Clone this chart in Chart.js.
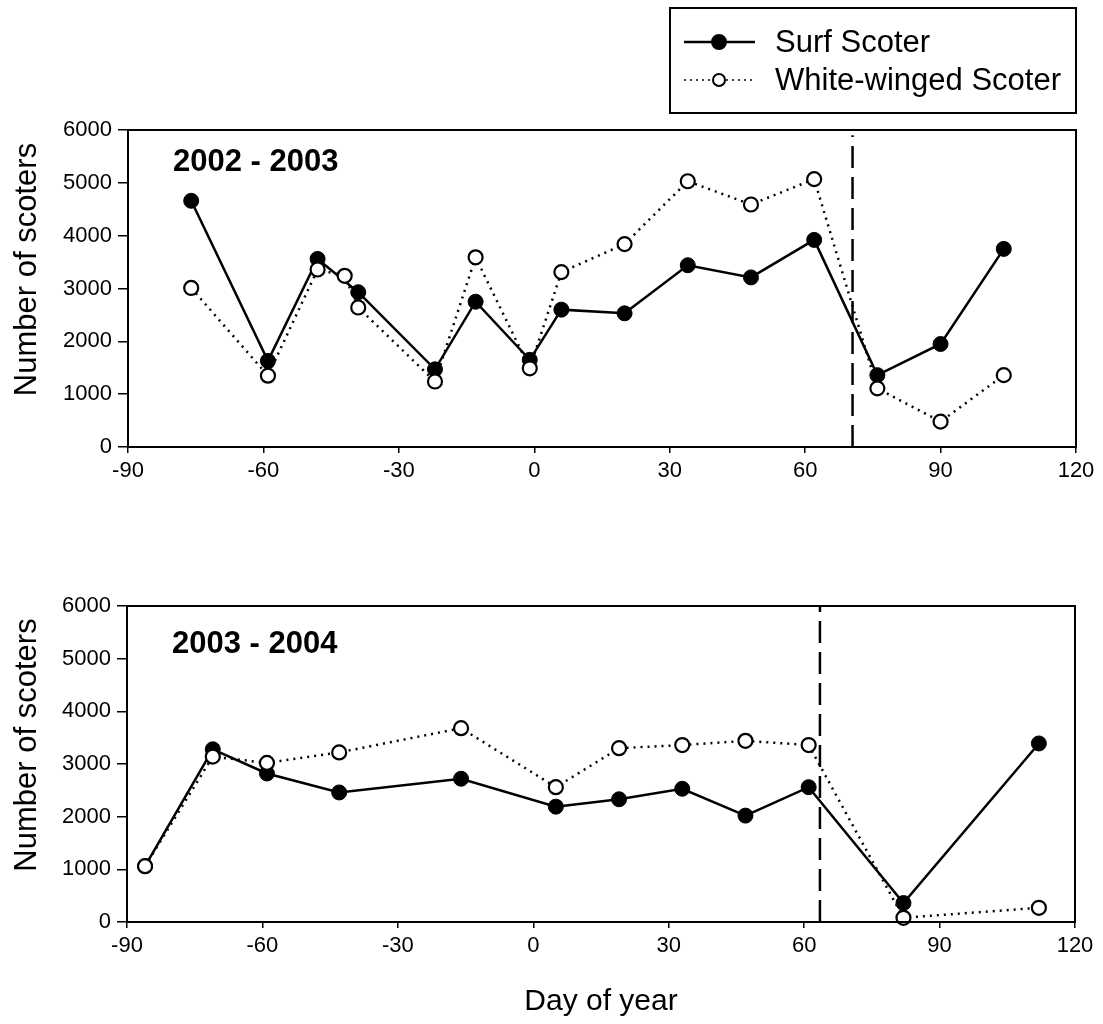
<!DOCTYPE html>
<html>
<head>
<meta charset="utf-8">
<script src="https://cdn.jsdelivr.net/npm/chart.js@4.4.1/dist/chart.umd.min.js"></script>
<style>
  html, body { margin:0; padding:0; background:#fff; }
  #wrap { position:relative; width:1103px; height:1024px; }
  canvas { position:absolute; left:0; }
  #top { top:0; }
  #bot { top:510px; }
</style>
</head>
<body>
<div id="wrap">
  <canvas id="top" width="1103" height="510"></canvas>
  <canvas id="bot" width="1103" height="514"></canvas>
</div>
<script>
(function(){
  const FONT = '"Liberation Sans", Arial, Helvetica, sans-serif';

  // 2002 - 2003
  const surfDays0203 = [-76, -59, -48, -39, -22, -13, -1, 6, 20, 34, 48, 62, 76, 90, 104];
  const surf0203     = [4660, 1630, 3560, 2930, 1470, 2750, 1650, 2600, 2530, 3440, 3210, 3920, 1360, 1950, 3750];
  const wwDays0203   = [-76, -59, -48, -42, -39, -22, -13, -1, 6, 20, 34, 48, 62, 76, 90, 104];
  const ww0203       = [3010, 1350, 3360, 3240, 2640, 1240, 3590, 1490, 3310, 3840, 5030, 4590, 5070, 1110, 480, 1360];
  const cutDay0203   = 70.5;

  // 2003 - 2004
  const days0304 = [-86, -71, -59, -43, -16, 5, 19, 33, 47, 61, 82, 112];
  const surf0304 = [1060, 3280, 2820, 2460, 2720, 2190, 2330, 2530, 2020, 2560, 360, 3390];
  const ww0304   = [1060, 3140, 3020, 3220, 3680, 2560, 3300, 3360, 3440, 3360, 80, 270];
  const cutDay0304 = 63.5;

  // axes
  const xMin = -90, xMax = 120, xStep = 30;
  const yMin = 0, yMax = 6000, yStep = 1000;
  const yTitle = 'Number of scoters';

  const pts = (xs, ys) => xs.map((x, i) => ({x, y: ys[i]}));

  const framePlugin = {
    id: 'frame',
    afterDraw(chart){
      const {ctx, chartArea:a} = chart;
      ctx.save();
      ctx.strokeStyle = '#000';
      ctx.lineWidth = 2;
      ctx.strokeRect(a.left, a.top, a.right - a.left, a.bottom - a.top);
      ctx.restore();
    }
  };

  // panel year label + y axis title (sits a little above the axis centre)
  const panelText = {
    id: 'panelText',
    afterDraw(chart, args, opts){
      const {ctx, chartArea:a} = chart;
      ctx.save();
      ctx.fillStyle = '#000';
      ctx.font = `bold 31px ${FONT}`;
      ctx.textAlign = 'left';
      ctx.textBaseline = 'middle';
      ctx.fillText(opts.text, a.left + opts.dx, a.top + opts.dy);

      ctx.translate(27, (a.top + a.bottom) / 2 - 19);
      ctx.rotate(-Math.PI / 2);
      ctx.font = `31px ${FONT}`;
      ctx.textAlign = 'center';
      ctx.fillText(yTitle, 0, 0);
      ctx.restore();
    }
  };

  // legend box above the top panel
  const legendBox = {
    id: 'legendBox',
    afterDraw(chart, args, opts){
      if (!opts.show) return;
      const ctx = chart.ctx;
      ctx.save();
      ctx.strokeStyle = '#000';
      ctx.lineWidth = 2;
      ctx.strokeRect(670, 8, 406, 105);
      const rows = [
        {y: 42, text: 'Surf Scoter', dash: [], fill: '#000'},
        {y: 80, text: 'White-winged Scoter', dash: [2, 4], fill: '#fff'}
      ];
      rows.forEach(r => {
        ctx.setLineDash(r.dash);
        ctx.lineWidth = r.dash.length ? 1.5 : 2.5;
        ctx.beginPath(); ctx.moveTo(684, r.y); ctx.lineTo(755, r.y); ctx.stroke();
        ctx.setLineDash([]);
        ctx.beginPath(); ctx.arc(719, r.y, r.dash.length ? 6 : 7, 0, Math.PI * 2);
        ctx.fillStyle = r.fill; ctx.fill();
        ctx.lineWidth = 2; ctx.stroke();
        ctx.fillStyle = '#000';
        ctx.font = `31px ${FONT}`;
        ctx.textAlign = 'left';
        ctx.textBaseline = 'middle';
        ctx.fillText(r.text, 775, r.y + 1);
      });
      ctx.restore();
    }
  };

  function makeChart(id, cfg){
    return new Chart(document.getElementById(id), {
      type: 'line',
      data: {
        datasets: [
          {label: 'White-winged Scoter', data: pts(cfg.wwDays, cfg.ww), order: 0,
           borderColor: '#000', borderWidth: 2.5, borderDash: [2, 5],
           pointRadius: 7, pointBackgroundColor: '#fff', pointBorderColor: '#000', pointBorderWidth: 2.2,
           tension: 0, clip: false},
          {label: 'Surf Scoter', data: pts(cfg.surfDays, cfg.surf), order: 1,
           borderColor: '#000', borderWidth: 2.5,
           pointRadius: 7.5, pointBackgroundColor: '#000', pointBorderColor: '#000', pointBorderWidth: 1,
           tension: 0, clip: false},
          {label: 'cut', data: [{x: cfg.cut, y: 0}, {x: cfg.cut, y: cfg.cutTop}], order: 2,
           borderColor: '#000', borderWidth: 2.5, borderDash: [22, 9], pointRadius: 0, clip: false}
        ]
      },
      options: {
        responsive: false,
        animation: false,
        devicePixelRatio: 1,
        layout: {padding: {top: cfg.padTop, right: cfg.padRight, left: 0, bottom: 0}},
        plugins: {
          legend: {display: false},
          tooltip: {enabled: false},
          panelText: {text: cfg.label, dx: 45, dy: cfg.labelDy},
          legendBox: {show: cfg.legend}
        },
        scales: {
          x: {
            type: 'linear', min: xMin, max: xMax,
            afterFit: s => { s.height = cfg.xHeight; },
            border: {display: false},
            grid: {drawOnChartArea: false, drawTicks: true, tickLength: 6, color: '#000', lineWidth: 1.5},
            ticks: {stepSize: xStep, color: '#000', padding: 5, font: {family: FONT, size: 22},
                    callback: v => String(v)},
            title: {display: cfg.xTitle, text: 'Day of year', color: '#000',
                    font: {family: FONT, size: 30}, padding: {top: 0, bottom: 4}}
          },
          y: {
            type: 'linear', min: yMin, max: yMax,
            afterFit: s => { s.width = cfg.yWidth; },
            border: {display: false},
            grid: {drawOnChartArea: false, drawTicks: true, tickLength: 10, color: '#000', lineWidth: 1.5},
            ticks: {stepSize: yStep, color: '#000', padding: 6, font: {family: FONT, size: 22},
                    callback: v => String(v)},
            title: {display: false}
          }
        }
      },
      plugins: [framePlugin, panelText, legendBox]
    });
  }

  makeChart('top', {
    surfDays: surfDays0203, surf: surf0203, wwDays: wwDays0203, ww: ww0203,
    cut: cutDay0203, cutTop: 5900, label: '2002 - 2003', labelDy: 32,
    padTop: 130, padRight: 27, yWidth: 128, xHeight: 63, xTitle: false, legend: true
  });

  makeChart('bot', {
    surfDays: days0304, surf: surf0304, wwDays: days0304, ww: ww0304,
    cut: cutDay0304, cutTop: 6000, label: '2003 - 2004', labelDy: 38,
    padTop: 96, padRight: 28, yWidth: 127, xHeight: 102, xTitle: true, legend: false
  });
})();
</script>
</body>
</html>
